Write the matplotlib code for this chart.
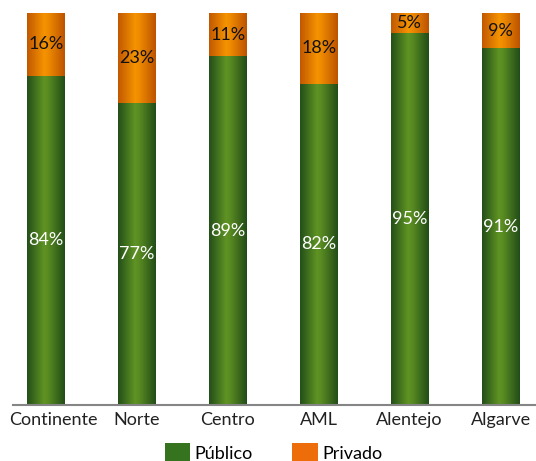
import numpy as np
import matplotlib.pyplot as plt
import matplotlib.transforms as mtransforms
from matplotlib.colors import LinearSegmentedColormap
from matplotlib.patches import Patch

plt.rcParams['font.family'] = ['Lato', 'DejaVu Sans']

regions = ['Continente', 'Norte', 'Centro', 'AML', 'Alentejo', 'Algarve']
publico = [84, 77, 89, 82, 95, 91]
privado = [16, 23, 11, 18, 5, 9]

green_cmap = LinearSegmentedColormap.from_list(
    'g', [(0, '#245019'), (0.45, '#5f9323'), (0.55, '#5a8c22'), (1, '#234d18')])
orange_cmap = LinearSegmentedColormap.from_list(
    'o', [(0, '#c25800'), (0.45, '#f59300'), (0.55, '#ef8c00'), (1, '#bd5400')])
grad = np.linspace(0, 1, 64).reshape(1, -1)

fig = plt.figure(figsize=(5.36, 4.61), dpi=100)
ax = fig.add_axes([13 / 536, 56 / 461, 523 / 536, 392 / 461])

x = np.arange(len(regions))
w = 0.41
for xi, pu, pr in zip(x, publico, privado):
    ax.imshow(grad, cmap=green_cmap, extent=[xi - w / 2, xi + w / 2, 0, pu],
              aspect='auto', zorder=2)
    ax.imshow(grad, cmap=orange_cmap, extent=[xi - w / 2, xi + w / 2, pu, pu + pr],
              aspect='auto', zorder=2)
    ax.text(xi, pu / 2, f'{pu}%', ha='center', va='center', color='white', fontsize=13, zorder=3)
    ax.text(xi, pu + pr / 2, f'{pr}%', ha='center', va='center', color='#111111', fontsize=13, zorder=3)

ax.set_xlim(-0.36, 5.39)
ax.set_ylim(0, 100)
ax.set_xticks(x)
ax.set_xticklabels(regions, fontsize=13, color='#222222')
ax.tick_params(axis='x', length=0, pad=5)
# first label sits a little to the right, as in the original
shift = mtransforms.ScaledTranslation(8 / 100, 0, fig.dpi_scale_trans)
lbl = ax.get_xticklabels()[0]
lbl.set_transform(lbl.get_transform() + shift)
ax.set_yticks([])
for s in ['top', 'left', 'right']:
    ax.spines[s].set_visible(False)
ax.spines['bottom'].set_color('#858585')
ax.spines['bottom'].set_linewidth(1.5)

handles = [Patch(facecolor='#35731f', label='Público'),
           Patch(facecolor='#ec6d0a', label='Privado')]
fig.legend(handles=handles, loc='center', bbox_to_anchor=(0.51, 0.018), ncol=2,
           frameon=False, fontsize=13, handlelength=1.4, handleheight=1.3,
           handletextpad=0.25, columnspacing=2.2)

fig.savefig('out.png', dpi=100)
